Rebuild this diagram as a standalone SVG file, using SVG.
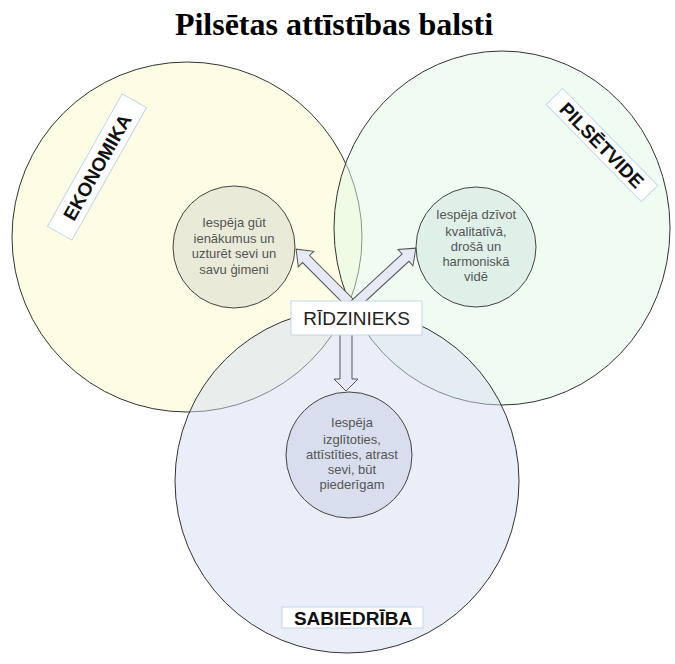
<svg xmlns="http://www.w3.org/2000/svg" width="675" height="664" viewBox="0 0 675 664">
<style>
.big{stroke:#333;stroke-width:1;fill-opacity:0.5}
.small{stroke:#444;stroke-width:1}
.st{font-family:"Liberation Sans",Arial,sans-serif;font-size:13px;fill:#555;text-anchor:middle}
.lbl{fill:#fff;stroke:#c5d5ea;stroke-width:1}
.lt{font-family:"Liberation Sans",Arial,sans-serif;font-size:19px;font-weight:bold;fill:#111;text-anchor:middle}
.arr{fill:#e6eaf6;stroke:#555;stroke-width:1;stroke-linejoin:miter}
</style>
<rect width="675" height="664" fill="#fff"/>
<text x="334" y="35" font-family="'Liberation Serif','Times New Roman',serif" font-size="32" font-weight="bold" text-anchor="middle" fill="#000">Pilsētas attīstības balsti</text>
<g id="ekonomika">
<circle class="big" cx="187" cy="237" r="175" fill="#fcfccc"/>
</g>
<g id="pilsetvide">
<ellipse class="big" cx="502" cy="228" rx="168" ry="177" fill="#e2f9e6"/>
</g>
<g id="sabiedriba">
<circle class="big" cx="347" cy="481" r="172" fill="#d6def2"/>
</g>
<g id="label-ekonomika" transform="translate(97,167) rotate(-60.6)">
<rect class="lbl" x="-76" y="-14" width="152" height="28"/>
<text class="lt" x="0" y="7">EKONOMIKA</text>
</g>
<g id="label-pilsetvide" transform="translate(602,145) rotate(45.6)">
<rect class="lbl" x="-68" y="-11.5" width="136" height="23"/>
<text class="lt" x="0" y="7">PILSĒTVIDE</text>
</g>
<g id="label-sabiedriba">
<rect class="lbl" x="282" y="607" width="141" height="21"/>
<text class="lt" x="353" y="624.5">SABIEDRĪBA</text>
</g>
<g id="ienakumi">
<circle class="small" cx="234" cy="247" r="61" fill="#e9ebd8"/>
<text class="st"><tspan x="234" y="227">Iespēja gūt</tspan><tspan x="234" y="243">ienākumus un</tspan><tspan x="234" y="258">uzturēt sevi un</tspan><tspan x="234" y="274">savu ģimeni</tspan></text>
</g>
<g id="vide">
<circle class="small" cx="476" cy="247" r="60" fill="#dff0e8"/>
<text class="st"><tspan x="476" y="219">Iespēja dzīvot</tspan><tspan x="476" y="236">kvalitatīvā,</tspan><tspan x="476" y="251">drošā un</tspan><tspan x="476" y="266">harmoniskā</tspan><tspan x="476" y="281">vidē</tspan></text>
</g>
<g id="izglitiba">
<circle class="small" cx="349" cy="455" r="63" fill="#d8deee"/>
<text class="st"><tspan x="352" y="427">Iespēja</tspan><tspan x="352" y="444">izglītoties,</tspan><tspan x="352" y="459">attīstīties, atrast</tspan><tspan x="352" y="474">sevi, būt</tspan><tspan x="352" y="489">piederīgam</tspan></text>
</g>
<g id="connectors">
<polygon class="arr" transform="translate(352,305) rotate(225)" points="0,-5 65,-5 65,-11 79,0 65,11 65,5 0,5"/>
<polygon class="arr" transform="translate(354,305) rotate(-42.6)" points="0,-5 70,-5 70,-11 84,0 70,11 70,5 0,5"/>
<polygon class="arr" points="340,330 352,330 352,379 358,379 346,391 334,379 340,379"/>
</g>
<g id="ridzinieks">
<rect class="lbl" x="291" y="301" width="131" height="34"/>
<text x="356.5" y="325" font-family="'Liberation Sans',Arial,sans-serif" font-size="19" fill="#222" text-anchor="middle">RĪDZINIEKS</text>
</g>
</svg>
